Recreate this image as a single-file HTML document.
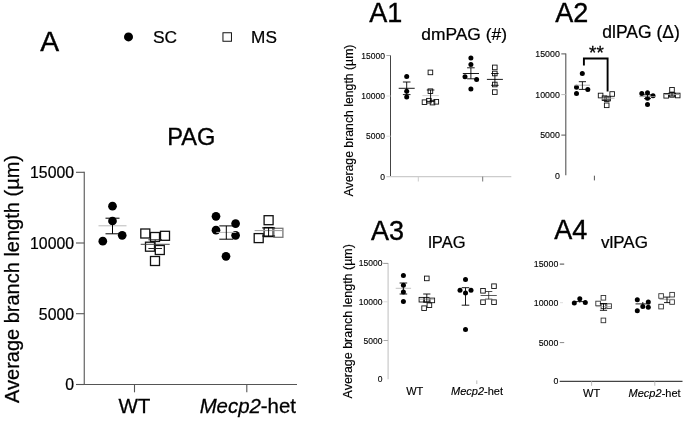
<!DOCTYPE html>
<html><head><meta charset="utf-8"><title>Figure</title>
<style>
html,body{margin:0;padding:0;background:#fff;}
body{width:685px;height:421px;overflow:hidden;}
svg{display:block;filter:blur(0.5px);font-family:"Liberation Sans",sans-serif;fill:#000;}
</style></head><body>
<svg width="685" height="421" viewBox="0 0 685 421">
<rect width="685" height="421" fill="#fff"/>
<text x="40.2" y="50.8" font-size="28.3" text-anchor="start" stroke="#000" stroke-width="0.40" >A</text>
<circle cx="128.5" cy="36.9" r="4.5" fill="#000"/>
<text x="153" y="43.1" font-size="17.4" text-anchor="start" stroke="#000" stroke-width="0.24" >SC</text>
<rect x="222.95" y="32.75" width="8.5" height="8.5" fill="none" stroke="#111" stroke-width="1"/>
<text x="251.1" y="43.1" font-size="17.2" text-anchor="start" stroke="#000" stroke-width="0.24" >MS</text>
<text x="191.4" y="145.2" font-size="23.6" text-anchor="middle" stroke="#000" stroke-width="0.33" >PAG</text>
<text transform="translate(18.9,279) rotate(-90)" font-size="20" text-anchor="middle" stroke="#000" stroke-width="0.28">Average branch length (µm)</text>
<line x1="84.25" y1="171.8" x2="84.25" y2="385" stroke="#555" stroke-width="1.1"/>
<line x1="76" y1="384.5" x2="297" y2="384.5" stroke="#555" stroke-width="1.1"/>
<line x1="76" y1="172.3" x2="84.25" y2="172.3" stroke="#555" stroke-width="1.1"/>
<text x="74" y="178.10000000000002" font-size="15.8" text-anchor="end" stroke="#000" stroke-width="0.22" >15000</text>
<line x1="76" y1="243" x2="84.25" y2="243" stroke="#555" stroke-width="1.1"/>
<text x="74" y="248.8" font-size="15.8" text-anchor="end" stroke="#000" stroke-width="0.22" >10000</text>
<line x1="76" y1="313.7" x2="84.25" y2="313.7" stroke="#555" stroke-width="1.1"/>
<text x="74" y="319.5" font-size="15.8" text-anchor="end" stroke="#000" stroke-width="0.22" >5000</text>
<line x1="76" y1="384.5" x2="84.25" y2="384.5" stroke="#555" stroke-width="1.1"/>
<text x="74" y="390.3" font-size="15.8" text-anchor="end" stroke="#000" stroke-width="0.22" >0</text>
<line x1="134.5" y1="384.5" x2="134.5" y2="392.3" stroke="#555" stroke-width="1.1"/>
<line x1="246.8" y1="384.5" x2="246.8" y2="392.3" stroke="#555" stroke-width="1.1"/>
<text x="134.4" y="412.6" font-size="20.6" text-anchor="middle" stroke="#000" stroke-width="0.29" >WT</text>
<text x="247.8" y="412.6" font-size="20.4" text-anchor="middle" stroke="#000" stroke-width="0.28"><tspan font-style="italic">Mecp2</tspan>-het</text>
<circle cx="112.5" cy="206.2" r="4.35" fill="#000"/>
<circle cx="112.5" cy="221" r="4.35" fill="#000"/>
<circle cx="122.2" cy="235.3" r="4.35" fill="#000"/>
<circle cx="102.8" cy="241.2" r="4.35" fill="#000"/>
<line x1="98.5" y1="225.8" x2="126.5" y2="225.8" stroke="#bbb" stroke-width="1"/>
<line x1="112.5" y1="218.2" x2="112.5" y2="233.8" stroke="#000" stroke-width="1"/>
<line x1="105.5" y1="218.2" x2="119.5" y2="218.2" stroke="#000" stroke-width="1"/>
<line x1="105.5" y1="233.8" x2="119.5" y2="233.8" stroke="#000" stroke-width="1"/>
<rect x="140.80" y="229.00" width="9" height="9" fill="none" stroke="#111" stroke-width="1.3"/>
<rect x="150.50" y="232.50" width="9" height="9" fill="none" stroke="#111" stroke-width="1.3"/>
<rect x="160.50" y="231.30" width="9" height="9" fill="none" stroke="#111" stroke-width="1.3"/>
<rect x="145.50" y="242.20" width="9" height="9" fill="none" stroke="#111" stroke-width="1.3"/>
<rect x="155.30" y="245.50" width="9" height="9" fill="none" stroke="#111" stroke-width="1.3"/>
<rect x="150.50" y="256.50" width="9" height="9" fill="none" stroke="#111" stroke-width="1.3"/>
<line x1="140.7" y1="244.3" x2="169.7" y2="244.3" stroke="#444" stroke-width="1"/>
<line x1="155.2" y1="239.8" x2="155.2" y2="248.5" stroke="#222" stroke-width="1"/>
<line x1="148.39999999999998" y1="239.8" x2="162.0" y2="239.8" stroke="#222" stroke-width="1"/>
<line x1="148.39999999999998" y1="248.5" x2="162.0" y2="248.5" stroke="#222" stroke-width="1"/>
<circle cx="216" cy="216.3" r="4.35" fill="#000"/>
<circle cx="235.6" cy="223.6" r="4.35" fill="#000"/>
<circle cx="216" cy="230.2" r="4.35" fill="#000"/>
<circle cx="235.6" cy="235.3" r="4.35" fill="#000"/>
<circle cx="226" cy="256.3" r="4.35" fill="#000"/>
<line x1="216.3" y1="232.4" x2="236.3" y2="232.4" stroke="#bbb" stroke-width="1"/>
<line x1="226.3" y1="225.9" x2="226.3" y2="239.2" stroke="#000" stroke-width="1"/>
<line x1="219.3" y1="225.9" x2="233.3" y2="225.9" stroke="#000" stroke-width="1"/>
<line x1="219.3" y1="239.2" x2="233.3" y2="239.2" stroke="#000" stroke-width="1"/>
<rect x="264.10" y="215.70" width="9" height="9" fill="none" stroke="#111" stroke-width="1.3"/>
<rect x="254.20" y="233.60" width="9" height="9" fill="none" stroke="#111" stroke-width="1.3"/>
<rect x="264.10" y="227.60" width="9" height="9" fill="none" stroke="#111" stroke-width="1.3"/>
<rect x="273.90" y="228.30" width="9" height="9" fill="none" stroke="#777" stroke-width="1.3"/>
<line x1="254.60000000000002" y1="230.6" x2="282.6" y2="230.6" stroke="#999" stroke-width="1"/>
<line x1="268.6" y1="227.9" x2="268.6" y2="236" stroke="#000" stroke-width="1"/>
<line x1="262.1" y1="227.9" x2="275.1" y2="227.9" stroke="#000" stroke-width="1"/>
<line x1="262.1" y1="236" x2="275.1" y2="236" stroke="#000" stroke-width="1"/>
<text x="369.2" y="22.4" font-size="27" text-anchor="start" stroke="#000" stroke-width="0.38" >A1</text>
<text x="421.3" y="39.5" font-size="17.4" text-anchor="start" stroke="#000" stroke-width="0.24" >dmPAG (#)</text>
<text transform="translate(352.6,120.5) rotate(-90)" font-size="12.25" text-anchor="middle" stroke="#000" stroke-width="0.17">Average branch length (µm)</text>
<text x="385" y="58.5" font-size="8.5" text-anchor="end" stroke="#000" stroke-width="0.12" >15000</text>
<text x="385" y="98.8" font-size="8.5" text-anchor="end" stroke="#000" stroke-width="0.12" >10000</text>
<text x="385" y="139.1" font-size="8.5" text-anchor="end" stroke="#000" stroke-width="0.12" >5000</text>
<text x="385" y="179.5" font-size="8.5" text-anchor="end" stroke="#000" stroke-width="0.12" >0</text>
<line x1="390.5" y1="55.2" x2="390.5" y2="177" stroke="#444" stroke-width="1"/>
<line x1="386.4" y1="176.6" x2="511.3" y2="176.6" stroke="#ccc" stroke-width="1.2"/>
<line x1="386.4" y1="55.5" x2="390.5" y2="55.5" stroke="#aaa" stroke-width="1"/>
<line x1="386.4" y1="96" x2="390.5" y2="96" stroke="#ddd" stroke-width="1"/>
<line x1="386.4" y1="136.2" x2="390.5" y2="136.2" stroke="#ddd" stroke-width="1"/>
<line x1="418.3" y1="176.6" x2="418.3" y2="181.5" stroke="#ccc" stroke-width="1"/>
<line x1="482.7" y1="176.6" x2="482.7" y2="181.5" stroke="#777" stroke-width="1"/>
<circle cx="406.7" cy="76.4" r="2.5" fill="#000"/>
<circle cx="406.7" cy="91.2" r="2.5" fill="#000"/>
<circle cx="406.7" cy="97.1" r="2.5" fill="#000"/>
<line x1="398.7" y1="88.3" x2="414.7" y2="88.3" stroke="#000" stroke-width="0.9"/>
<line x1="406.7" y1="82" x2="406.7" y2="94.6" stroke="#000" stroke-width="0.9"/>
<line x1="402.9" y1="82" x2="410.5" y2="82" stroke="#000" stroke-width="0.9"/>
<line x1="402.9" y1="94.6" x2="410.5" y2="94.6" stroke="#000" stroke-width="0.9"/>
<rect x="428.10" y="70.10" width="4.6" height="4.6" fill="none" stroke="#111" stroke-width="0.9"/>
<rect x="428.10" y="88.90" width="4.6" height="4.6" fill="none" stroke="#111" stroke-width="0.9"/>
<rect x="422.20" y="99.90" width="4.6" height="4.6" fill="none" stroke="#111" stroke-width="0.9"/>
<rect x="426.60" y="98.40" width="4.6" height="4.6" fill="none" stroke="#111" stroke-width="0.9"/>
<rect x="430.20" y="100.30" width="4.6" height="4.6" fill="none" stroke="#111" stroke-width="0.9"/>
<rect x="434.00" y="99.50" width="4.6" height="4.6" fill="none" stroke="#111" stroke-width="0.9"/>
<line x1="422.40000000000003" y1="95.6" x2="438.8" y2="95.6" stroke="#ccc" stroke-width="0.9"/>
<line x1="430.6" y1="90" x2="430.6" y2="101.4" stroke="#000" stroke-width="0.9"/>
<line x1="426.8" y1="90" x2="434.40000000000003" y2="90" stroke="#000" stroke-width="0.9"/>
<line x1="426.8" y1="101.4" x2="434.40000000000003" y2="101.4" stroke="#000" stroke-width="0.9"/>
<circle cx="470.9" cy="57.9" r="2.5" fill="#000"/>
<circle cx="470.9" cy="64.4" r="2.5" fill="#000"/>
<circle cx="465" cy="76.7" r="2.5" fill="#000"/>
<circle cx="476.6" cy="79.4" r="2.5" fill="#000"/>
<circle cx="470.9" cy="88.9" r="2.5" fill="#000"/>
<line x1="462.79999999999995" y1="73.5" x2="479.0" y2="73.5" stroke="#000" stroke-width="0.9"/>
<line x1="470.9" y1="67.8" x2="470.9" y2="78.8" stroke="#000" stroke-width="0.9"/>
<line x1="467.09999999999997" y1="67.8" x2="474.7" y2="67.8" stroke="#000" stroke-width="0.9"/>
<line x1="467.09999999999997" y1="78.8" x2="474.7" y2="78.8" stroke="#000" stroke-width="0.9"/>
<rect x="492.50" y="65.10" width="4.6" height="4.6" fill="none" stroke="#111" stroke-width="0.9"/>
<rect x="492.50" y="71.20" width="4.6" height="4.6" fill="none" stroke="#111" stroke-width="0.9"/>
<rect x="492.50" y="82.20" width="4.6" height="4.6" fill="none" stroke="#111" stroke-width="0.9"/>
<rect x="492.50" y="89.80" width="4.6" height="4.6" fill="none" stroke="#111" stroke-width="0.9"/>
<line x1="486.9" y1="79.4" x2="502.9" y2="79.4" stroke="#000" stroke-width="0.9"/>
<line x1="494.9" y1="73.5" x2="494.9" y2="85.3" stroke="#000" stroke-width="0.9"/>
<line x1="491.2" y1="73.5" x2="498.59999999999997" y2="73.5" stroke="#000" stroke-width="0.9"/>
<line x1="491.2" y1="85.3" x2="498.59999999999997" y2="85.3" stroke="#000" stroke-width="0.9"/>
<text x="555.2" y="22" font-size="27" text-anchor="start" stroke="#000" stroke-width="0.38" >A2</text>
<text x="602.3" y="37.5" font-size="17.5" text-anchor="start" stroke="#000" stroke-width="0.24" >dlPAG (Δ)</text>
<text x="559.8" y="56.800000000000004" font-size="8.8" text-anchor="end" stroke="#000" stroke-width="0.12" >15000</text>
<text x="559.8" y="97.69999999999999" font-size="8.8" text-anchor="end" stroke="#000" stroke-width="0.12" >10000</text>
<text x="559.8" y="138.2" font-size="8.8" text-anchor="end" stroke="#000" stroke-width="0.12" >5000</text>
<text x="559.8" y="178.79999999999998" font-size="8.8" text-anchor="end" stroke="#000" stroke-width="0.12" >0</text>
<line x1="565.8" y1="53.4" x2="565.8" y2="175.2" stroke="#555" stroke-width="1.1"/>
<line x1="561.3" y1="53.9" x2="565.8" y2="53.9" stroke="#555" stroke-width="1"/>
<line x1="561.3" y1="94.6" x2="565.8" y2="94.6" stroke="#bbb" stroke-width="1"/>
<line x1="561.3" y1="135.1" x2="565.8" y2="135.1" stroke="#555" stroke-width="1"/>
<line x1="594.4" y1="175.7" x2="594.4" y2="180.4" stroke="#555" stroke-width="1"/>
<path d="M583.9 65.5 V58.5 H607.6 V91.5" fill="none" stroke="#000" stroke-width="1.9"/>
<text x="596.4" y="58.8" font-size="18.9" text-anchor="middle" stroke="#000" stroke-width="0.26" >**</text>
<circle cx="582.3" cy="73.5" r="2.5" fill="#000"/>
<circle cx="576.5" cy="87.2" r="2.5" fill="#000"/>
<circle cx="587.8" cy="89.4" r="2.5" fill="#000"/>
<circle cx="576.5" cy="93.5" r="2.5" fill="#000"/>
<line x1="574.8" y1="85.2" x2="590.0" y2="85.2" stroke="#aaa" stroke-width="0.9"/>
<line x1="582.4" y1="81.7" x2="582.4" y2="89.4" stroke="#000" stroke-width="0.9"/>
<line x1="578.8" y1="81.7" x2="586.0" y2="81.7" stroke="#000" stroke-width="0.9"/>
<line x1="578.8" y1="89.4" x2="586.0" y2="89.4" stroke="#000" stroke-width="0.9"/>
<rect x="598.30" y="93.20" width="4.6" height="4.6" fill="none" stroke="#111" stroke-width="0.9"/>
<rect x="609.90" y="91.70" width="4.6" height="4.6" fill="none" stroke="#111" stroke-width="0.9"/>
<rect x="602.20" y="95.90" width="4.6" height="4.6" fill="none" stroke="#111" stroke-width="0.9"/>
<rect x="605.80" y="96.30" width="4.6" height="4.6" fill="none" stroke="#111" stroke-width="0.9"/>
<rect x="604.40" y="96.80" width="4.6" height="4.6" fill="none" stroke="#111" stroke-width="0.9"/>
<rect x="604.40" y="103.00" width="4.6" height="4.6" fill="none" stroke="#111" stroke-width="0.9"/>
<line x1="598.5" y1="98.2" x2="614.5" y2="98.2" stroke="#aaa" stroke-width="0.9"/>
<line x1="606.5" y1="97" x2="606.5" y2="99.6" stroke="#555" stroke-width="0.9"/>
<line x1="603.0" y1="97" x2="610.0" y2="97" stroke="#555" stroke-width="0.9"/>
<line x1="603.0" y1="99.6" x2="610.0" y2="99.6" stroke="#555" stroke-width="0.9"/>
<circle cx="641.8" cy="93.6" r="2.5" fill="#000"/>
<circle cx="647.5" cy="92.7" r="2.5" fill="#000"/>
<circle cx="653" cy="95.8" r="2.5" fill="#000"/>
<circle cx="647.5" cy="98.2" r="2.5" fill="#000"/>
<circle cx="647.5" cy="104.4" r="2.5" fill="#000"/>
<line x1="639.5" y1="96.6" x2="655.5" y2="96.6" stroke="#999" stroke-width="0.9"/>
<line x1="647.5" y1="94.8" x2="647.5" y2="98.6" stroke="#000" stroke-width="0.9"/>
<line x1="644.0" y1="94.8" x2="651.0" y2="94.8" stroke="#000" stroke-width="0.9"/>
<line x1="644.0" y1="98.6" x2="651.0" y2="98.6" stroke="#000" stroke-width="0.9"/>
<rect x="669.70" y="87.50" width="4.6" height="4.6" fill="none" stroke="#111" stroke-width="0.9"/>
<rect x="663.90" y="93.50" width="4.6" height="4.6" fill="none" stroke="#111" stroke-width="0.9"/>
<rect x="669.70" y="92.60" width="4.6" height="4.6" fill="none" stroke="#111" stroke-width="0.9"/>
<rect x="675.40" y="93.20" width="4.6" height="4.6" fill="none" stroke="#111" stroke-width="0.9"/>
<line x1="664" y1="94.5" x2="680" y2="94.5" stroke="#999" stroke-width="0.9"/>
<line x1="672" y1="93" x2="672" y2="96" stroke="#000" stroke-width="0.9"/>
<line x1="668.5" y1="93" x2="675.5" y2="93" stroke="#000" stroke-width="0.9"/>
<line x1="668.5" y1="96" x2="675.5" y2="96" stroke="#000" stroke-width="0.9"/>
<text x="371" y="239.5" font-size="27" text-anchor="start" stroke="#000" stroke-width="0.38" >A3</text>
<text x="428.2" y="247.9" font-size="16.5" text-anchor="start" stroke="#000" stroke-width="0.23" >lPAG</text>
<text transform="translate(352.4,321.3) rotate(-90)" font-size="12.45" text-anchor="middle" stroke="#000" stroke-width="0.17">Average branch length (µm)</text>
<text x="382.4" y="266.40000000000003" font-size="8.5" text-anchor="end" stroke="#000" stroke-width="0.12" >15000</text>
<text x="382.4" y="304.90000000000003" font-size="8.5" text-anchor="end" stroke="#000" stroke-width="0.12" >10000</text>
<text x="382.4" y="343.6" font-size="8.5" text-anchor="end" stroke="#000" stroke-width="0.12" >5000</text>
<text x="382.4" y="382.20000000000005" font-size="8.5" text-anchor="end" stroke="#000" stroke-width="0.12" >0</text>
<line x1="388.1" y1="263" x2="388.1" y2="379.2" stroke="#c4c4c4" stroke-width="1.1"/>
<line x1="383.2" y1="263.4" x2="388.1" y2="263.4" stroke="#999" stroke-width="1"/>
<line x1="383.5" y1="301.8" x2="388" y2="301.8" stroke="#ddd" stroke-width="1"/>
<line x1="383.5" y1="340.5" x2="388" y2="340.5" stroke="#aaa" stroke-width="1"/>
<g transform="translate(0,0.4)">
<line x1="476.8" y1="380" x2="476.8" y2="383.6" stroke="#bbb" stroke-width="1"/>
<text x="414.8" y="394.8" font-size="11" text-anchor="middle" stroke="#000" stroke-width="0.15" >WT</text>
<text x="477" y="394.8" font-size="11" text-anchor="middle" stroke="#000" stroke-width="0.15"><tspan font-style="italic">Mecp2</tspan>-het</text>
<circle cx="403.4" cy="275" r="2.5" fill="#000"/>
<circle cx="403.4" cy="284.8" r="2.5" fill="#000"/>
<circle cx="403.4" cy="291.5" r="2.5" fill="#000"/>
<circle cx="403.4" cy="301.2" r="2.5" fill="#000"/>
<line x1="395.7" y1="287.9" x2="411.09999999999997" y2="287.9" stroke="#bbb" stroke-width="0.9"/>
<line x1="403.4" y1="282.6" x2="403.4" y2="293.6" stroke="#000" stroke-width="0.9"/>
<line x1="399.59999999999997" y1="282.6" x2="407.2" y2="282.6" stroke="#000" stroke-width="0.9"/>
<line x1="399.59999999999997" y1="293.6" x2="407.2" y2="293.6" stroke="#000" stroke-width="0.9"/>
<rect x="424.50" y="275.70" width="4.6" height="4.6" fill="none" stroke="#111" stroke-width="0.9"/>
<rect x="419.10" y="297.00" width="4.6" height="4.6" fill="none" stroke="#111" stroke-width="0.9"/>
<rect x="424.50" y="297.00" width="4.6" height="4.6" fill="none" stroke="#111" stroke-width="0.9"/>
<rect x="430.00" y="297.70" width="4.6" height="4.6" fill="none" stroke="#111" stroke-width="0.9"/>
<rect x="427.10" y="302.50" width="4.6" height="4.6" fill="none" stroke="#111" stroke-width="0.9"/>
<rect x="421.80" y="305.50" width="4.6" height="4.6" fill="none" stroke="#111" stroke-width="0.9"/>
<line x1="419.3" y1="298.7" x2="434.3" y2="298.7" stroke="#999" stroke-width="0.9"/>
<line x1="426.8" y1="293.6" x2="426.8" y2="301.8" stroke="#000" stroke-width="0.9"/>
<line x1="423.2" y1="293.6" x2="430.40000000000003" y2="293.6" stroke="#000" stroke-width="0.9"/>
<line x1="423.2" y1="301.8" x2="430.40000000000003" y2="301.8" stroke="#000" stroke-width="0.9"/>
<circle cx="465.5" cy="279" r="2.5" fill="#000"/>
<circle cx="460" cy="289.8" r="2.5" fill="#000"/>
<circle cx="471" cy="289.8" r="2.5" fill="#000"/>
<circle cx="465.5" cy="292.6" r="2.5" fill="#000"/>
<circle cx="465.5" cy="329.1" r="2.5" fill="#000"/>
<line x1="458.0" y1="295.9" x2="473.0" y2="295.9" stroke="#fff" stroke-width="0.9"/>
<line x1="465.5" y1="287.3" x2="465.5" y2="304.8" stroke="#000" stroke-width="0.9"/>
<line x1="461.7" y1="287.3" x2="469.3" y2="287.3" stroke="#000" stroke-width="0.9"/>
<line x1="461.7" y1="304.8" x2="469.3" y2="304.8" stroke="#000" stroke-width="0.9"/>
<rect x="491.70" y="283.50" width="4.6" height="4.6" fill="none" stroke="#111" stroke-width="0.9"/>
<rect x="480.70" y="288.10" width="4.6" height="4.6" fill="none" stroke="#111" stroke-width="0.9"/>
<rect x="480.70" y="299.50" width="4.6" height="4.6" fill="none" stroke="#111" stroke-width="0.9"/>
<rect x="491.70" y="299.50" width="4.6" height="4.6" fill="none" stroke="#111" stroke-width="0.9"/>
<line x1="480.59999999999997" y1="295.1" x2="496.8" y2="295.1" stroke="#333" stroke-width="0.8"/>
<line x1="488.7" y1="291.1" x2="488.7" y2="298.7" stroke="#222" stroke-width="0.8"/>
<line x1="485.09999999999997" y1="291.1" x2="492.3" y2="291.1" stroke="#222" stroke-width="0.8"/>
<line x1="485.09999999999997" y1="298.7" x2="492.3" y2="298.7" stroke="#222" stroke-width="0.8"/>
</g>
<text x="554.3" y="238.8" font-size="27" text-anchor="start" stroke="#000" stroke-width="0.38" >A4</text>
<text x="601" y="247.9" font-size="17" text-anchor="start" stroke="#000" stroke-width="0.24" >vlPAG</text>
<text x="558.3" y="267.1" font-size="8.8" text-anchor="end" stroke="#000" stroke-width="0.12" >15000</text>
<text x="558.3" y="305.8" font-size="8.8" text-anchor="end" stroke="#000" stroke-width="0.12" >10000</text>
<text x="558.3" y="345.70000000000005" font-size="8.8" text-anchor="end" stroke="#000" stroke-width="0.12" >5000</text>
<text x="558.3" y="384.1" font-size="8.8" text-anchor="end" stroke="#000" stroke-width="0.12" >0</text>
<line x1="559.8" y1="264.1" x2="564.2" y2="264.1" stroke="#555" stroke-width="1.1"/>
<line x1="559.8" y1="342.6" x2="564.2" y2="342.6" stroke="#888" stroke-width="1"/>
<line x1="559.7" y1="381.4" x2="682.5" y2="381.4" stroke="#444" stroke-width="1.1"/>
<line x1="591.6" y1="381.4" x2="591.6" y2="385.8" stroke="#bbb" stroke-width="1"/>
<line x1="654.8" y1="381.4" x2="654.8" y2="385.8" stroke="#bbb" stroke-width="1"/>
<line x1="560" y1="302.7" x2="563" y2="302.7" stroke="#ddd" stroke-width="1"/>
<text x="591.6" y="397.4" font-size="11" text-anchor="middle" stroke="#000" stroke-width="0.15" >WT</text>
<text x="654.6" y="397.4" font-size="11" text-anchor="middle" stroke="#000" stroke-width="0.15"><tspan font-style="italic">Mecp2</tspan>-het</text>
<circle cx="574.3" cy="303" r="2.5" fill="#000"/>
<circle cx="579.8" cy="298.7" r="2.5" fill="#000"/>
<circle cx="585.3" cy="302.4" r="2.5" fill="#000"/>
<line x1="573.8" y1="301.6" x2="585.8" y2="301.6" stroke="#000" stroke-width="0.9"/>
<line x1="579.8" y1="300.6" x2="579.8" y2="302.6" stroke="#000" stroke-width="0.9"/>
<line x1="579.8" y1="300.6" x2="579.8" y2="300.6" stroke="#000" stroke-width="0.9"/>
<line x1="579.8" y1="302.6" x2="579.8" y2="302.6" stroke="#000" stroke-width="0.9"/>
<rect x="601.10" y="295.50" width="4.6" height="4.6" fill="none" stroke="#333" stroke-width="0.9"/>
<rect x="595.80" y="301.20" width="4.6" height="4.6" fill="none" stroke="#333" stroke-width="0.9"/>
<rect x="606.80" y="303.80" width="4.6" height="4.6" fill="none" stroke="#333" stroke-width="0.9"/>
<rect x="601.10" y="304.00" width="4.6" height="4.6" fill="none" stroke="#333" stroke-width="0.9"/>
<rect x="601.10" y="318.10" width="4.6" height="4.6" fill="none" stroke="#333" stroke-width="0.9"/>
<line x1="596.0" y1="306.6" x2="611.0" y2="306.6" stroke="#aaa" stroke-width="0.9"/>
<line x1="603.5" y1="303.5" x2="603.5" y2="310.3" stroke="#000" stroke-width="0.9"/>
<line x1="599.9" y1="303.5" x2="607.1" y2="303.5" stroke="#000" stroke-width="0.9"/>
<line x1="599.9" y1="310.3" x2="607.1" y2="310.3" stroke="#000" stroke-width="0.9"/>
<circle cx="637.3" cy="299.7" r="2.5" fill="#000"/>
<circle cx="648.3" cy="302" r="2.5" fill="#000"/>
<circle cx="642.8" cy="306.6" r="2.5" fill="#000"/>
<circle cx="648.3" cy="307.2" r="2.5" fill="#000"/>
<circle cx="637.3" cy="310.7" r="2.5" fill="#000"/>
<line x1="635.5" y1="303.9" x2="650.0999999999999" y2="303.9" stroke="#000" stroke-width="0.9"/>
<line x1="642.8" y1="302" x2="642.8" y2="306" stroke="#000" stroke-width="0.9"/>
<line x1="642.8" y1="302" x2="642.8" y2="302" stroke="#000" stroke-width="0.9"/>
<line x1="642.8" y1="306" x2="642.8" y2="306" stroke="#000" stroke-width="0.9"/>
<rect x="658.80" y="293.70" width="4.6" height="4.6" fill="none" stroke="#333" stroke-width="0.9"/>
<rect x="669.80" y="292.40" width="4.6" height="4.6" fill="none" stroke="#333" stroke-width="0.9"/>
<rect x="669.80" y="299.70" width="4.6" height="4.6" fill="none" stroke="#333" stroke-width="0.9"/>
<rect x="658.80" y="304.30" width="4.6" height="4.6" fill="none" stroke="#333" stroke-width="0.9"/>
<line x1="659.5" y1="299.3" x2="674.5" y2="299.3" stroke="#999" stroke-width="0.9"/>
<line x1="667" y1="297.1" x2="667" y2="302.6" stroke="#000" stroke-width="0.9"/>
<line x1="664" y1="297.1" x2="670" y2="297.1" stroke="#000" stroke-width="0.9"/>
<line x1="664" y1="302.6" x2="670" y2="302.6" stroke="#000" stroke-width="0.9"/>
</svg>
</body></html>
